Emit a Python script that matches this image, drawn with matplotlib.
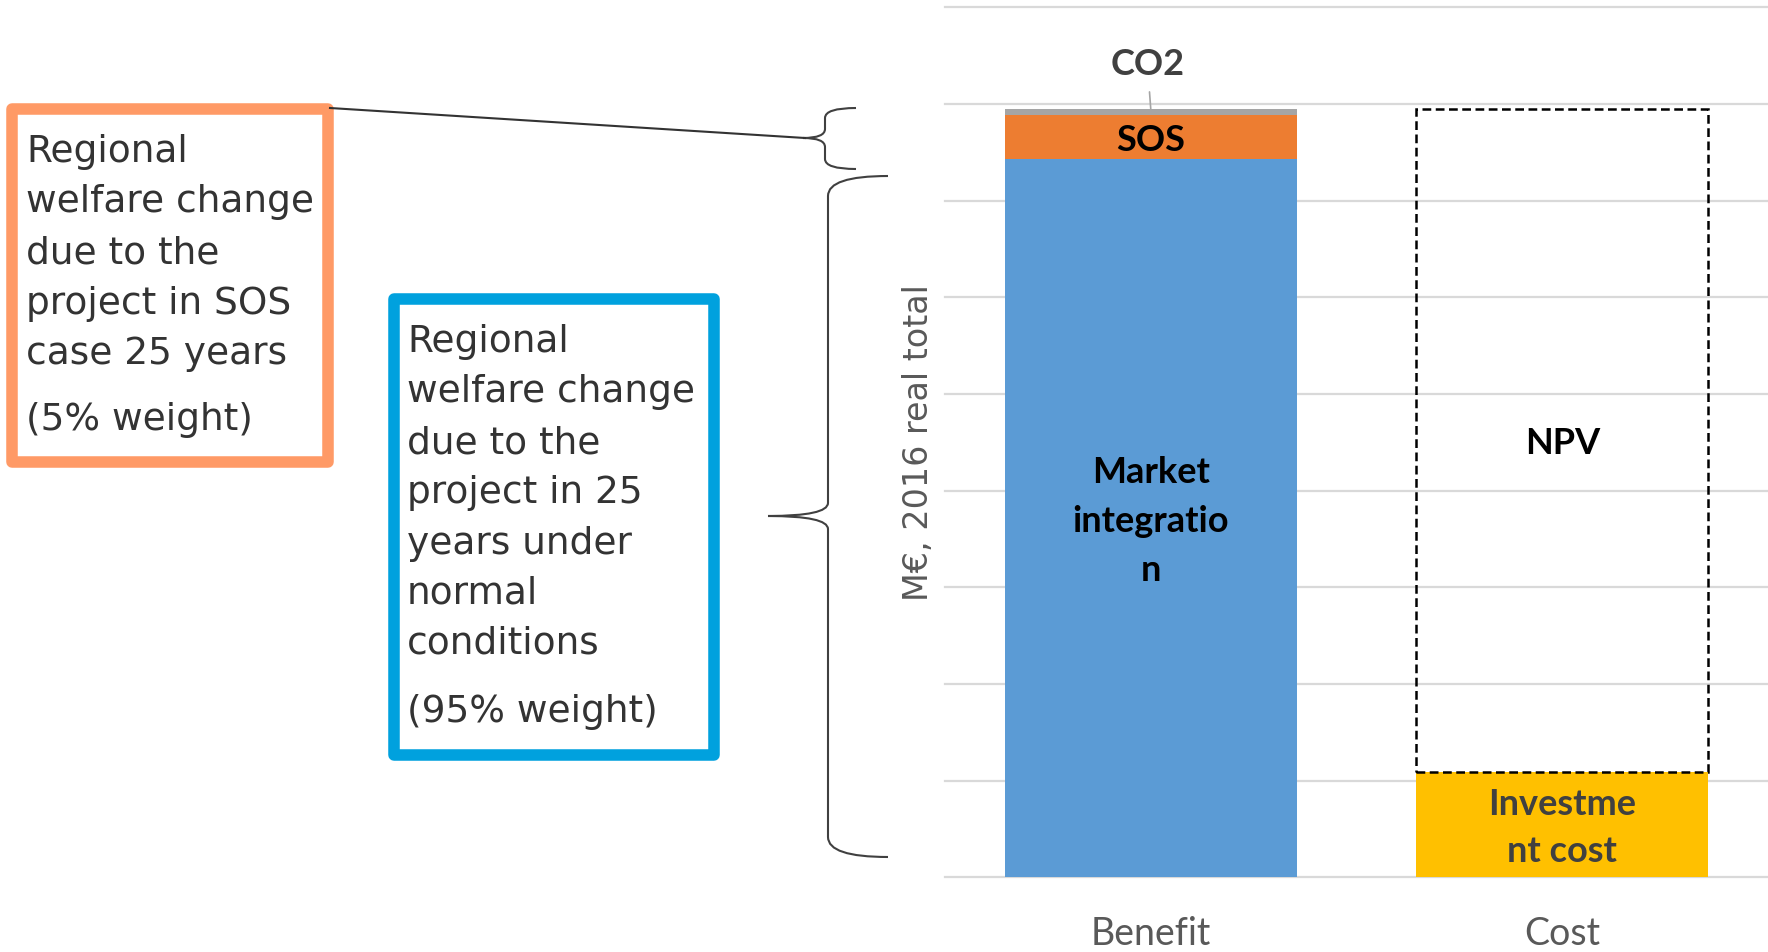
import numpy as np
import matplotlib
matplotlib.use("Agg")
import matplotlib.pyplot as plt
from matplotlib.path import Path
from matplotlib.patches import PathPatch, Rectangle

# values in M EUR (100 per gridline)
categories = ["Benefit", "Cost"]
market_integration = np.array([743, 0])
sos = np.array([46, 0])
co2 = np.array([6, 0])
investment = np.array([0, 109])
npv = (market_integration + sos + co2)[0] - investment[1]

orange_lines = ["Regional", "welfare change", "due to the", "project in SOS",
                "case 25 years", "(5% weight)"]
blue_lines = ["Regional", "welfare change", "due to the", "project in 25",
              "years under", "normal", "conditions", "(95% weight)"]

BLUE = "#5B9BD5"
ORANGE = "#ED7D31"
GRAY = "#A5A5A5"
GOLD = "#FFC000"


def brace(ax, xr, xs, xp, ytop, ymid, ybot, r_end, r_mid):
    verts = [(xr, ytop), (xs, ytop), (xs, ytop + r_end),
             (xs, ymid - r_mid),
             (xs, ymid), (xp, ymid),
             (xs, ymid), (xs, ymid + r_mid),
             (xs, ybot - r_end),
             (xs, ybot), (xr, ybot)]
    codes = [Path.MOVETO, Path.CURVE3, Path.CURVE3,
             Path.LINETO,
             Path.CURVE3, Path.CURVE3,
             Path.CURVE3, Path.CURVE3,
             Path.LINETO,
             Path.CURVE3, Path.CURVE3]
    ax.add_patch(PathPatch(Path(verts, codes), fill=False, edgecolor="#404040", lw=1.5))


W, H = 1768, 952
fig = plt.figure(figsize=(W / 100, H / 100), dpi=100)

ax = fig.add_axes([945 / W, (H - 877.3) / H, (W - 945) / W, 870 / H])
x = np.arange(len(categories))
bw = 0.71

ax.bar(x, market_integration, bw, color=BLUE, linewidth=0, zorder=2)
ax.bar(x, sos, bw, bottom=market_integration, color=ORANGE, linewidth=0, zorder=2)
ax.bar(x, co2, bw, bottom=market_integration + sos, color=GRAY, linewidth=0, zorder=2)
ax.bar(x, investment, bw, color=GOLD, linewidth=0, zorder=2)
ax.bar(x[1:], [npv], bw, bottom=investment[1:], fill=False, edgecolor="black",
       linewidth=1.8, linestyle=(0, (3.5, 1.8)), zorder=3)

total = (market_integration + sos + co2)[0]
dy = 3.5  # small nudge so Lato sits like the original Calibri labels
bold = dict(family="Lato", fontweight="bold", fontsize=26, ha="center", va="center")
ax.text(x[0], market_integration[0] / 2 - dy, "Market\nintegratio\nn", linespacing=1.6,
        color="black", zorder=4, **bold)
ax.text(x[0], market_integration[0] + sos[0] / 2 - 4, "SOS", color="black", zorder=4, **bold)
ax.annotate("CO2", xy=(x[0], total), xytext=(x[0] - 0.008, 841), color="#404040",
            arrowprops=dict(arrowstyle="-", color=GRAY, lw=1.2, shrinkA=6, shrinkB=0),
            **bold)
ax.text(x[1], investment[1] + npv / 2 - dy, "NPV", color="black", zorder=4, **bold)
ax.text(x[1], investment[1] / 2 - dy, "Investme\nnt cost", linespacing=1.55,
        color="#404040", zorder=4, **bold)

ax.set_xlim(-0.5, 1.5)
ax.set_ylim(0, 900)
ax.set_yticks(np.arange(0, 901, 100))
ax.set_yticklabels([])
ax.set_xticks(x)
ax.set_xticklabels(categories, family="Lato", fontsize=27, color="#595959")
ax.tick_params(axis="both", length=0)
ax.tick_params(axis="x", pad=28)
ax.yaxis.grid(True, color="#D9D9D9", linewidth=1.6)
for gl in ax.get_ygridlines():
    gl.set_clip_on(False)
ax.set_axisbelow(True)
for s in ax.spines.values():
    s.set_visible(False)

# annotation layer in pixel coordinates
ov = fig.add_axes([0, 0, 1, 1])
ov.set_xlim(0, W)
ov.set_ylim(H, 0)
ov.axis("off")
ov.patch.set_alpha(0)

ov.text(919, 443, "M€, 2016 real total", rotation=90, ha="center", va="center",
        family="DejaVu Sans", fontsize=24, color="#595959")

ov.add_patch(Rectangle((11.5, 108.5), 316.5, 353.5, fill=False, edgecolor="#FF9A66",
                       lw=8.3, joinstyle="round"))
ov.add_patch(Rectangle((394, 299), 320, 456, fill=False, edgecolor="#00A1DE",
                       lw=8.3, joinstyle="round"))

orange_base = [162, 212.5, 263, 313.5, 364, 430]
for line, yb in zip(orange_lines, orange_base):
    ov.text(26, yb, line, family="DejaVu Sans", fontsize=27, color="#333333",
            ha="left", va="baseline")
blue_base = [352, 402.5, 453, 503, 553.5, 604, 654, 722]
for line, yb in zip(blue_lines, blue_base):
    ov.text(407, yb, line, family="DejaVu Sans", fontsize=27, color="#333333",
            ha="left", va="baseline")

ov.plot([330, 805], [108, 138], color="#333333", lw=1.5)
brace(ov, 856, 825, 803, 108, 138, 169, 10, 9)
brace(ov, 888, 828, 768, 176, 516, 857, 20, 13)

fig.savefig("out.png", dpi=100)
